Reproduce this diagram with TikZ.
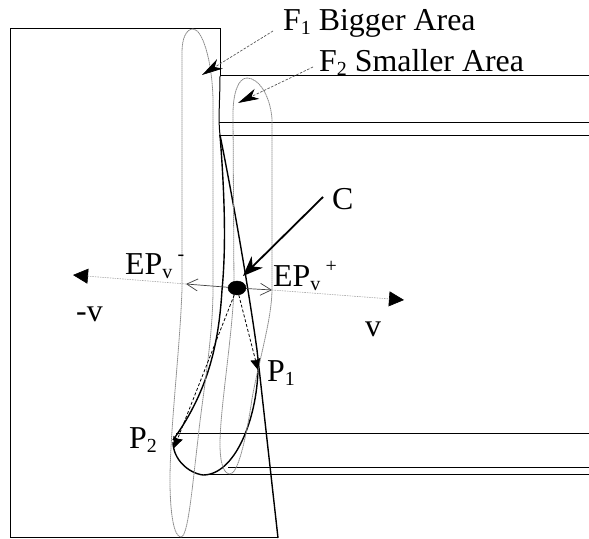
\documentclass[tikz,border=0pt]{standalone}
\usepackage{fontspec}
\setmainfont{Liberation Serif}
\usetikzlibrary{arrows.meta,shapes.geometric}
\definecolor{outline}{HTML}{8A8A8A}
\newcommand{\lowidx}[1]{\raisebox{-4bp}{\fontsize{20}{20}\selectfont #1}}
\newcommand{\highidx}[1]{\raisebox{14bp}{\fontsize{20}{20}\selectfont #1}}
\tikzset{
  wall/.style={draw=black,line width=1bp},
  edge/.style={draw=black,line width=1.4bp},
  blob/.style={draw=outline,line width=0.8bp,dash pattern=on 1.5bp off 0.5bp},
  leader/.style={draw=black!65,line width=0.7bp,dash pattern=on 2.5bp off 1.5bp,-{Stealth[black,length=21bp,width=11bp,inset=6bp]}},
  axisline/.style={draw=black!35,line width=0.6bp,dash pattern=on 1.5bp off 1bp,-{Triangle[black,length=15bp,width=15bp]}},
  gapline/.style={draw=black!75,line width=0.7bp,-{Straight Barb[length=11bp,width=12bp,black!75]}},
  route/.style={draw=black,line width=0.8bp,dash pattern=on 3bp off 2bp,-{Stealth[black,length=11bp,width=10bp,inset=1bp]}},
  lbl/.style={font=\fontsize{32}{34}\selectfont,inner sep=0,anchor=base west}
}
\begin{document}
\begin{tikzpicture}[x=1bp,y=1bp]
\path[use as bounding box] (0,0) rectangle (589,539);
% named ends
\coordinate (f1from) at (273,508);
\coordinate (f1to) at (202,464);
\coordinate (f2from) at (313,472);
\coordinate (f2to) at (238,436);
\coordinate (cfrom) at (323,342);
\coordinate (cto) at (243,263);
\coordinate (vleft) at (73,264);
\coordinate (vright) at (404,239);
\coordinate (epl) at (186,255);
\coordinate (epr) at (272,249);
\coordinate (p1) at (258,169);
\coordinate (p2) at (174,91);
% outline of the body
\draw[wall] (220,463) -- (220,510) -- (10,510) -- (10,1) -- (278,1);
\draw[wall] (220,463) .. controls (220,440) and (218,420) .. (220,404);
\draw[edge] (278,1) -- (257,189) .. controls (250,240) and (235,330) .. (220,404);
\draw[wall] (220,463) -- (589,463);
\draw[wall] (219,416) -- (589,416);
\draw[wall] (219,403) -- (589,403);
\draw[wall] (176,105) -- (589,105);
\draw[wall] (228,71) -- (589,71);
\draw[wall] (205,64) -- (589,64);
% inner curves
\draw[edge] (220,404) .. controls (225,340) and (226,290) .. (222,249)
  .. controls (219,200) and (210,150) .. (173,99);
\draw[edge] (258,170) .. controls (257,120) and (235,64) .. (203,64)
  .. controls (188,66) and (173,80) .. (173,97);
% footprints
\draw[blob] (193,510) .. controls (186,510) and (182,500) .. (182,487)
  -- (182,250) .. controls (180,190) and (170,110) .. (170,59)
  .. controls (170,25) and (174,2) .. (181,2)
  .. controls (188,2) and (192,50) .. (198,100)
  .. controls (202,140) and (213,200) .. (213,250)
  -- (213,440) .. controls (212,480) and (202,510) .. (193,510);
\draw[blob] (247,461) .. controls (238,461) and (233,445) .. (233,425)
  -- (234,250) .. controls (232,200) and (220,130) .. (220,95)
  .. controls (220,75) and (224,65) .. (230,65)
  .. controls (238,65) and (246,100) .. (252,140)
  .. controls (258,175) and (272,220) .. (272,250)
  -- (272,420) .. controls (270,445) and (258,461) .. (247,461);
% arrows
\draw[leader] (f1from) -- (f1to);
\draw[leader] (f2from) -- (f2to);
\node[draw,fill=black,ellipse,minimum width=18bp,minimum height=14bp,inner sep=0] (cpoint) at (237,251) {};
\draw[axisline] (epl) -- (vleft);
\draw[axisline] (epr) -- (vright);
\draw[gapline] (cpoint) -- (epl);
\draw[gapline] (cpoint) -- (epr);
\draw[route] (cpoint) -- (p1);
\draw[route] (cpoint) -- (p2);
\draw[-{Stealth[length=20bp,width=16bp]},line width=1.8bp] (cfrom) -- (cto);
% labels
\node[lbl] (f1lbl) at (283,508) {F\lowidx{1} Bigger Area};
\node[lbl] (f2lbl) at (319,467) {F\lowidx{2} Smaller Area};
\node[lbl] (clbl) at (332,329) {C};
\node[lbl] (epminus) at (125,264) {EP\lowidx{v}\,\highidx{-}};
\node[lbl] (epplus) at (273,252) {EP\lowidx{v}\,\highidx{+}};
\node[lbl] (vminus) at (76,217) {-v};
\node[lbl] (vplus) at (365,202) {v};
\node[lbl] (p1lbl) at (267,157) {P\lowidx{1}};
\node[lbl] (p2lbl) at (129,90) {P\lowidx{2}};
\end{tikzpicture}
\end{document}
